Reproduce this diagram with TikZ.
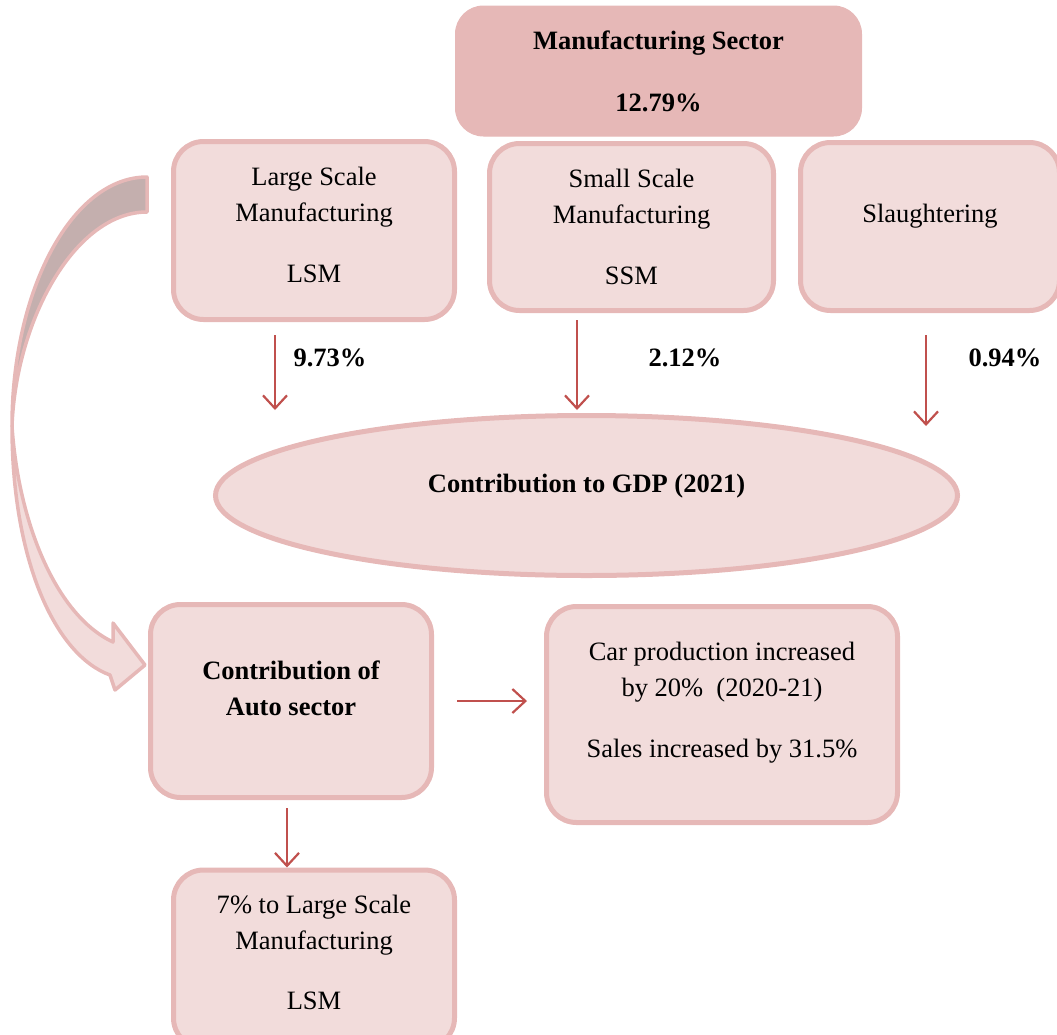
\documentclass[tikz,border=0pt]{standalone}
\usepackage{fontspec}
\setmainfont{Liberation Serif}
\usetikzlibrary{shapes.geometric,arrows.meta,positioning}
\definecolor{boxfill}{HTML}{F2DCDB}
\definecolor{boxline}{HTML}{E6B8B7}
\definecolor{backfill}{HTML}{C4AFAE}
\definecolor{arrred}{HTML}{C0504D}

\begin{document}
\begin{tikzpicture}[x=1pt,y=-1pt,
  font=\fontsize{26.5}{36}\selectfont,
  card/.style={draw=boxline,fill=boxfill,line width=5pt,rounded corners=30pt,
    align=center,inner sep=0pt},
  txtbold/.style={font=\fontsize{26.5}{36}\selectfont\bfseries},
  arr/.style={-{Straight Barb[length=13pt,width=24pt]},draw=arrred,line width=2.2pt},
  curvearrow/.style={draw=boxline,line width=3.5pt,line join=round}]
\useasboundingbox (0,0) rectangle (1057,1034);
\clip (0,0) rectangle (1057,1034);
% curved block arrow: LSM -> auto sector
\draw[curvearrow,fill=backfill] (147,177) .. controls (72,177) and (12,290) .. (12,426)
  .. controls (16,320) and (75,212) .. (147,212) -- cycle;
\draw[curvearrow,fill=boxfill] (12,426) .. controls (12,560) and (55,655) .. (110,675)
  -- (115,690) -- (145,665) -- (113,623) -- (113,642)
  .. controls (55,615) and (18,520) .. (12,426) -- cycle;
% top node
\node[card,txtbold,fill=boxline,line width=1pt,rounded corners=28pt,
  minimum width=406pt,minimum height=130pt] (mfg) at (658.5,71)
  {Manufacturing Sector\\[26pt]12.79\%};
% sub-sectors
\node[card,minimum width=281pt,minimum height=178pt] (lsm) at (314,230.5)
  {Large Scale\\Manufacturing\\[25pt]LSM\\[-24pt]\mbox{}};
\node[card,minimum width=284pt,minimum height=167pt] (ssm) at (631.5,227)
  {Small Scale\\Manufacturing\\[25pt]SSM};
\node[card,minimum width=259pt,minimum height=168pt] (slg) at (930,226.5)
  {Slaughtering\\[-9pt]\mbox{}};
% GDP ellipse
\node[card,txtbold,ellipse,sharp corners,minimum width=742pt,minimum height=160pt]
  (gdp) at (586.5,495.5) {Contribution to GDP (2021)\\[-11pt]\mbox{}};
% auto sector
\node[card,txtbold,minimum width=281pt,minimum height=193pt] (auto) at (291,701)
  {Contribution of\\Auto sector\\[-10pt]\mbox{}};
\node[card,minimum width=351pt,minimum height=216pt] (car) at (722,714.5)
  {Car production increased\\by 20\%\ \ (2020-21)\\[25pt]Sales increased by 31.5\%\\[-6pt]\mbox{}};
\node[card,minimum width=281pt,minimum height=178pt] (lsm7) at (314,959)
  {7\% to Large Scale\\Manufacturing\\[24pt]LSM\\[-23pt]\mbox{}};
% shares
\node[txtbold] (plsm) at (330,358) {9.73\%};
\node[txtbold] (pssm) at (685,358) {2.12\%};
\node[txtbold] (pslg) at (1005,358) {0.94\%};
% arrows
\draw[arr,shorten <=13pt,shorten >=3pt] ([xshift=-39pt]lsm.south)
  -- ([xshift=-39pt]lsm.south |- gdp.north);
\draw[arr,shorten <=7pt,shorten >=3pt] ([xshift=-54.5pt]ssm.south)
  -- ([xshift=-54.5pt]ssm.south |- gdp.north);
\draw[arr,shorten <=22pt,shorten >=-13pt] ([xshift=-4pt]slg.south)
  -- ([xshift=-4pt]slg.south |- gdp.north);
\draw[arr,shorten <=23pt,shorten >=17pt] (auto.east) -- (auto.east -| car.west);
\draw[arr,shorten <=8pt] ([xshift=-4pt]auto.south) -- ([xshift=-4pt]auto.south |- lsm7.north);
\end{tikzpicture}
\end{document}
